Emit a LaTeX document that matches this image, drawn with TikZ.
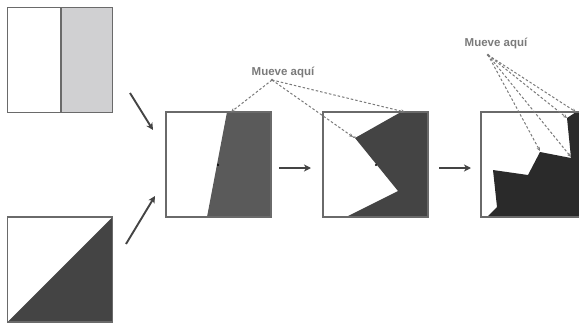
\documentclass[tikz,border=0pt]{standalone}
\usepackage{fontspec}
\setmainfont{Liberation Sans}
\usetikzlibrary{arrows.meta}
\definecolor{edgegray}{HTML}{6A6A6A}
\definecolor{darkfill}{HTML}{444444}
\definecolor{midfill}{HTML}{5A5A5A}
\definecolor{deepfill}{HTML}{2A2A2A}
\definecolor{lightfill}{HTML}{D0D0D2}
\definecolor{hintgray}{HTML}{7A7A7A}
\begin{document}
\begin{tikzpicture}[x=1pt, y=-1pt,
	sq/.style={draw=edgegray, line width=1.1pt, minimum size=105pt, inner sep=0pt, outer sep=0pt},
	flow/.style={draw=darkfill, line width=1.9pt, -{Stealth[length=7pt,width=7pt,inset=2pt]}},
	hint/.style={draw=hintgray, line width=1pt, dash pattern=on 2.5pt off 2pt, -{Stealth[length=4pt,width=3.5pt]}},
	tag/.style={font=\fontsize{11.5}{13}\selectfont\bfseries, text=hintgray, inner sep=1pt}]
		\useasboundingbox (0,0) rectangle (579,324);
		\clip (0,0) rectangle (579,324);
		
		\fill[lightfill] (61,7.5) rectangle (112.5,112.5);
		\fill[darkfill] (7.5,322) -- (112.5,217) -- (112.5,322) -- cycle;
		\fill[midfill] (227,112) -- (271,112) -- (271,217) -- (207,217) -- cycle;
		\fill[darkfill] (401,112) -- (428,112) -- (428,217) -- (346,217) -- (398,191) -- (355,138) -- cycle;
		\fill[deepfill] (576,112) -- (586,112) -- (586,217) -- (487,217) -- (497,207) -- (493,170)
			-- (528,175) -- (540,152) -- (571,158) -- (567,118) -- cycle;
		\draw[edgegray, line width=1.1pt] (61,7.5) -- (61,112.5);
		
		\node[sq] (half) at (60,60) {};
		\node[sq] (diag) at (60,269.5) {};
		\node[sq] (step1) at (218.5,164.5) {};
		\node[sq] (step2) at (375.5,164.5) {};
		\node[sq] (step3) at (533.5,164.5) {};
		
		\fill (218,165) circle (1.2pt);
		\fill (376,165) circle (1.2pt);
		
		\coordinate (a1) at (130,93);
		\coordinate (b1) at (153,130);
		\coordinate (a2) at (126,244);
		\coordinate (b2) at (155,196);
		\coordinate (a3) at (279,168);
		\coordinate (b3) at (311,168);
		\coordinate (a4) at (439,168);
		\coordinate (b4) at (471,168);
		\draw[flow] (a1) -- (b1);
		\draw[flow] (a2) -- (b2);
		\draw[flow] (a3) -- (b3);
		\draw[flow] (a4) -- (b4);
		
		\node[tag] (move1) at (283,72) {Mueve aquí};
		\node[tag] (move2) at (496,43) {Mueve aquí};
		\coordinate (p1) at (272,80);
		\coordinate (p2) at (488,55);
		\fill[hintgray] (p1) circle (1.3pt);
		\fill[hintgray] (p2) circle (1.3pt);
		
		\coordinate (t1) at (231,112);
		\coordinate (t2) at (405,112);
		\coordinate (t3) at (353,137);
		\coordinate (t4) at (402,138);
		\draw[hint] (p1) -- (t1);
		\draw[hint] (p1) -- (t2);
		\draw[hint] (p1) -- (t3);
		\draw[darkfill, line width=1pt, dash pattern=on 2.5pt off 2pt] (t3) -- (t4);
		
		\coordinate (u1) at (576,112);
		\coordinate (u2) at (567,118);
		\coordinate (u3) at (571,157);
		\coordinate (u4) at (540,151);
		\draw[hint] (p2) -- (u1);
		\draw[hint] (p2) -- (u2);
		\draw[hint] (p2) -- (u3);
		\draw[hint] (p2) -- (u4);
\end{tikzpicture}
\end{document}
